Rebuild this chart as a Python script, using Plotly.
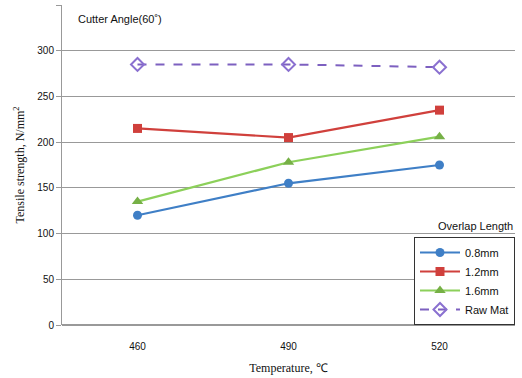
import plotly.graph_objects as go

temps = ["460", "490", "520"]
s08 = [120, 155, 175]
s12 = [215, 205, 235]
s16 = [135, 178, 206]
raw = [285, 285, 282]
yticks = [0, 50, 100, 150, 200, 250, 300, 350]

fig = go.Figure()
fig.add_trace(go.Scatter(x=temps, y=s08, name="0.8mm", mode="lines+markers",
                         line=dict(color="#3f7fc6", width=2.2),
                         marker=dict(symbol="circle", size=9, color="#3f7fc6")))
fig.add_trace(go.Scatter(x=temps, y=s12, name="1.2mm", mode="lines+markers",
                         line=dict(color="#d0403c", width=2.2),
                         marker=dict(symbol="square", size=9, color="#d0403c")))
fig.add_trace(go.Scatter(x=temps, y=s16, name="1.6mm", mode="lines+markers",
                         line=dict(color="#8cd05a", width=2.2),
                         marker=dict(symbol="triangle-up", size=10, color="#76b046")))
fig.add_trace(go.Scatter(x=temps, y=raw, name="Raw Mat", mode="lines+markers",
                         line=dict(color="#7d60c0", width=2, dash="dash"),
                         marker=dict(symbol="diamond-open", size=10, color="#8a70d0",
                                     line=dict(width=2))))

fig.update_layout(
    width=522, height=378,
    margin=dict(l=62, r=7, t=5, b=53),
    paper_bgcolor="white", plot_bgcolor="white",
    font=dict(family="Liberation Sans", color="#111", size=10),
    showlegend=True,
    legend=dict(
        x=1.0, xanchor="right", y=0.0, yanchor="bottom",
        bgcolor="white", bordercolor="#333", borderwidth=1,
        font=dict(size=11), tracegroupgap=0, itemwidth=40,
    ),
    xaxis=dict(type="category", range=[-0.5, 2.5], showline=False, showgrid=False, ticks="",
               ticklabelstandoff=14,
               tickfont=dict(size=10, family="Liberation Sans"),
               title=dict(text="Temperature, ℃", font=dict(size=12, family="Liberation Serif"), standoff=12)),
    yaxis=dict(range=[0, 350], tickvals=yticks, showgrid=True, gridcolor="#999", gridwidth=1,
               showline=True, linecolor="#999", ticks="outside", ticklen=5, tickcolor="#999",
               zeroline=True, zerolinecolor="#999",
               tickfont=dict(size=10, family="Liberation Sans"),
               title=dict(text="Tensile strength, N/mm<sup>2</sup>",
                          font=dict(size=12, family="Liberation Serif"), standoff=10)),
    annotations=[
        dict(text="Cutter Angle(60˚)", x=0.03, y=0.955, xref="paper", yref="paper",
             xanchor="left", yanchor="middle", showarrow=False,
             font=dict(size=11, family="Liberation Sans")),
        dict(text="Overlap Length", x=1.0, y=0.285, xref="paper", yref="paper",
             xanchor="right", yanchor="bottom", showarrow=False,
             font=dict(size=11, family="Liberation Sans")),
    ],
)

fig.write_html("out.html")
